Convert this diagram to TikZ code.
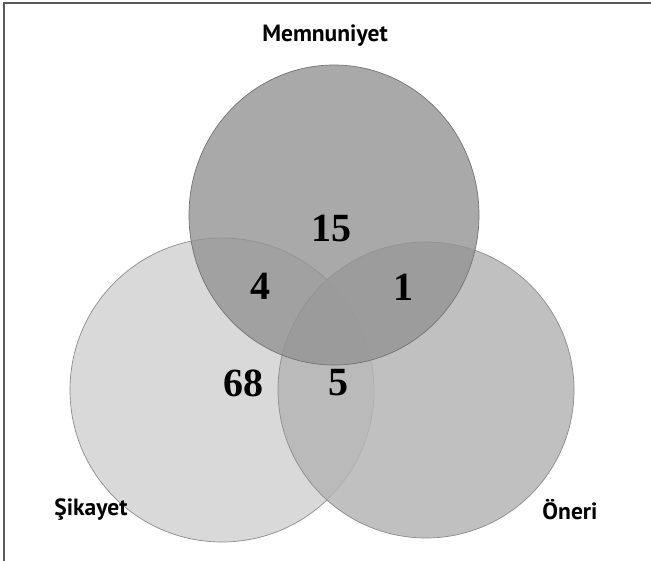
\documentclass[tikz,border=0pt]{standalone}
\usepackage{fontspec}
\usetikzlibrary{shapes.geometric}
\setmainfont{Liberation Serif}
\newfontfamily\setnamefont{PT Sans}
\begin{document}
\begin{tikzpicture}[x=1pt,y=-1pt,
  setlabel/.style={font=\setnamefont\bfseries\fontsize{23.5}{26}\selectfont, inner sep=0pt},
  count/.style={font=\bfseries\fontsize{40}{44}\selectfont, inner sep=0pt},
  setcircle/.style={ellipse, inner sep=0pt, draw=black!45, line width=0.7pt}]
\useasboundingbox (0,0) rectangle (651,561);
\fill[white] (0,0) rectangle (651,561);
% frame edges
\draw[line width=1.5pt, black!65] (4,561) -- (4,3) -- (651,3);
% the three sets
\node[setcircle, minimum width=304pt, minimum height=304pt, fill=black!15] (sik) at (222,390) {};
\node[setcircle, minimum width=296pt, minimum height=296pt, fill=black!29, fill opacity=0.85] (oner) at (426,390) {};
\node[setcircle, minimum width=290pt, minimum height=300pt, fill=black!42, fill opacity=0.8, draw=black!55] (memn) at (334,215) {};
% set names
\node[setlabel] (lmemn) at (325,36) {Memnuniyet};
\node[setlabel] (lsik) at (91,510) {Şikayet};
\node[setlabel] (loner) at (570,510) {Öneri};
% region counts
\node[count] (c15) at (331,228) {15};
\node[count] (c4) at (260,286) {4};
\node[count] (c1) at (403,287) {1};
\node[count] (c68) at (243,383) {68};
\node[count] (c5) at (338,383) {5};
\end{tikzpicture}
\end{document}
